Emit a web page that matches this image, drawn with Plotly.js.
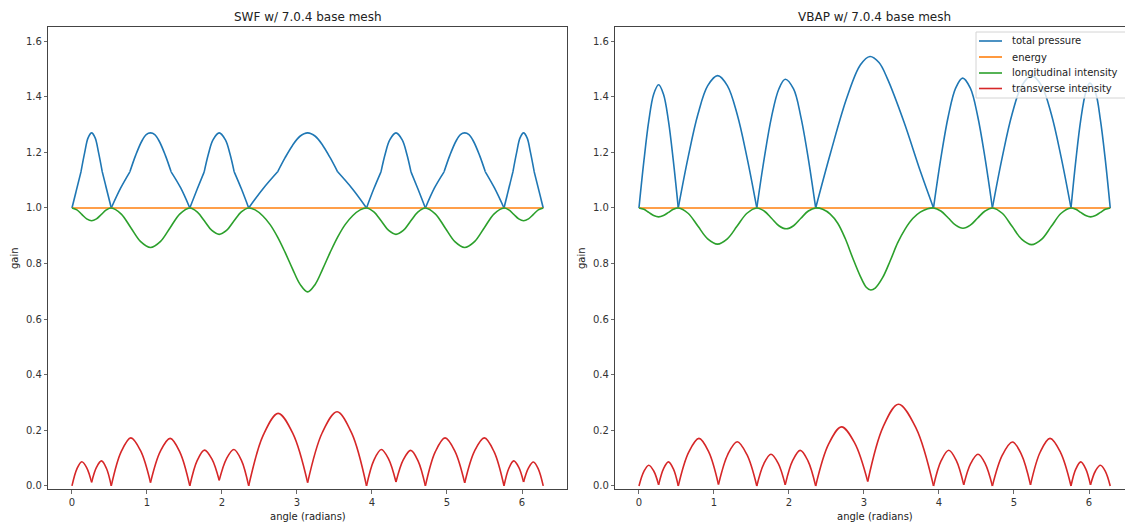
<!DOCTYPE html>
<html>
<head>
<meta charset="utf-8">
<script src="https://cdn.plot.ly/plotly-3.0.1.min.js"></script>
<style>
  html, body { margin: 0; padding: 0; overflow: hidden; background: #fff; }
</style>
</head>
<body>
<div id="chart" style="width:1140px;height:524px"></div>
<script>
// Gains versus source angle around a 7.0.4 base mesh (angles in radians).
// null entries separate pieces so that each lobe / arc is smoothed on its own
// and the cusps at the loudspeaker positions stay sharp.

const xTicks = [0, 1, 2, 3, 4, 5, 6];
const yTicks = [0, 0.2, 0.4, 0.6, 0.8, 1.0, 1.2, 1.4, 1.6];

const energyX = [0, 6.283];
const energyY = [1.0, 1.0];

// ---------- SWF ----------
const swfPressureX = [
  0, 0.12, null,
  0.12, 0.17, 0.215, 0.262, 0.309, 0.354, 0.404, null,
  0.404, 0.524, null,
  0.524, 0.65, 0.772, null,
  0.772, 0.85, 0.93, 0.99, 1.047, 1.104, 1.164, 1.244, 1.322, null,
  1.322, 1.45, 1.571, null,
  1.571, 1.67, 1.763, null,
  1.763, 1.82, 1.88, 1.963, 2.046, 2.106, 2.163, null,
  2.163, 2.26, 2.356, null,
  2.356, 2.55, 2.742, null,
  2.742, 2.84, 2.94, 3.04, 3.142, 3.244, 3.344, 3.444, 3.542, null,
  3.542, 3.735, 3.927, null,
  3.927, 4.023, 4.120, null,
  4.120, 4.177, 4.237, 4.320, 4.403, 4.463, 4.520, null,
  4.520, 4.613, 4.712, null,
  4.712, 4.833, 4.961, null,
  4.961, 5.039, 5.119, 5.179, 5.236, 5.293, 5.353, 5.433, 5.511, null,
  5.511, 5.633, 5.760, null,
  5.760, 5.879, null,
  5.879, 5.929, 5.974, 6.021, 6.068, 6.113, 6.163, null,
  6.163, 6.283
];
const swfPressureY = [
  1.0, 1.13, null,
  1.13, 1.20, 1.252, 1.27, 1.252, 1.20, 1.13, null,
  1.13, 1.0, null,
  1.0, 1.072, 1.13, null,
  1.13, 1.19, 1.24, 1.264, 1.27, 1.264, 1.24, 1.19, 1.13, null,
  1.13, 1.072, 1.0, null,
  1.0, 1.068, 1.13, null,
  1.13, 1.195, 1.245, 1.27, 1.245, 1.195, 1.13, null,
  1.13, 1.068, 1.0, null,
  1.0, 1.07, 1.13, null,
  1.13, 1.18, 1.225, 1.258, 1.27, 1.258, 1.225, 1.18, 1.13, null,
  1.13, 1.07, 1.0, null,
  1.0, 1.068, 1.13, null,
  1.13, 1.195, 1.245, 1.27, 1.245, 1.195, 1.13, null,
  1.13, 1.068, 1.0, null,
  1.0, 1.072, 1.13, null,
  1.13, 1.19, 1.24, 1.264, 1.27, 1.264, 1.24, 1.19, 1.13, null,
  1.13, 1.072, 1.0, null,
  1.0, 1.13, null,
  1.13, 1.20, 1.252, 1.27, 1.252, 1.20, 1.13, null,
  1.13, 1.0
];

const swfLongX = [
  0, 0.066, 0.131, 0.196, 0.262, 0.327, 0.393, 0.458, 0.524,
  0.654, 0.785, 0.916, 1.047, 1.178, 1.309, 1.440, 1.571,
  1.669, 1.767, 1.865, 1.963, 2.061, 2.159, 2.258, 2.356,
  2.442, 2.542, 2.642, 2.742, 2.842, 2.942, 3.042, 3.142,
  3.242, 3.342, 3.442, 3.542, 3.642, 3.742, 3.842, 3.927,
  4.025, 4.124, 4.222, 4.320, 4.418, 4.516, 4.614, 4.712,
  4.843, 4.974, 5.105, 5.236, 5.367, 5.498, 5.629, 5.760,
  5.825, 5.890, 5.956, 6.021, 6.087, 6.152, 6.217, 6.283
];
const swfLongY = [
  1.0, 0.993, 0.977, 0.961, 0.954, 0.961, 0.977, 0.993, 1.0,
  0.979, 0.929, 0.879, 0.858, 0.879, 0.929, 0.979, 1.0,
  0.986, 0.953, 0.919, 0.905, 0.919, 0.953, 0.986, 1.0,
  0.993, 0.972, 0.94, 0.895, 0.84, 0.78, 0.725, 0.698,
  0.725, 0.78, 0.84, 0.895, 0.94, 0.972, 0.993, 1.0,
  0.986, 0.953, 0.919, 0.905, 0.919, 0.953, 0.986, 1.0,
  0.979, 0.929, 0.879, 0.858, 0.879, 0.929, 0.979, 1.0,
  0.993, 0.977, 0.961, 0.954, 0.961, 0.977, 0.993, 1.0
];

const swfTransX = [
  0, 0.066, 0.131, 0.197, 0.262, null,
  0.262, 0.328, 0.393, 0.459, 0.524, null,
  0.524, 0.655, 0.785, 0.916, 1.047, null,
  1.047, 1.178, 1.309, 1.44, 1.571, null,
  1.571, 1.669, 1.767, 1.865, 1.963, null,
  1.963, 2.061, 2.159, 2.258, 2.356, null,
  2.356, 2.553, 2.749, 2.946, 3.142, null,
  3.142, 3.338, 3.534, 3.731, 3.927, null,
  3.927, 4.026, 4.124, 4.222, 4.320, null,
  4.320, 4.418, 4.516, 4.614, 4.712, null,
  4.712, 4.843, 4.974, 5.105, 5.236, null,
  5.236, 5.367, 5.498, 5.629, 5.760, null,
  5.760, 5.825, 5.890, 5.956, 6.021, null,
  6.021, 6.087, 6.152, 6.218, 6.283
];
const swfTransY = [
  0, 0.0615, 0.087, 0.0653, 0.013, null,
  0.013, 0.0674, 0.090, 0.0636, 0, null,
  0, 0.1223, 0.173, 0.1258, 0.012, null,
  0.012, 0.1244, 0.171, 0.1209, 0, null,
  0, 0.0912, 0.129, 0.0971, 0.02, null,
  0.02, 0.0985, 0.131, 0.0926, 0, null,
  0, 0.1845, 0.261, 0.188, 0.012, null,
  0.012, 0.1923, 0.267, 0.1888, 0, null,
  0, 0.0926, 0.131, 0.0967, 0.014, null,
  0.014, 0.0946, 0.128, 0.0905, 0, null,
  0, 0.1223, 0.173, 0.1255, 0.011, null,
  0.011, 0.1255, 0.173, 0.1223, 0, null,
  0, 0.0636, 0.090, 0.0677, 0.014, null,
  0.014, 0.0649, 0.086, 0.0608, 0
];

// ---------- VBAP ----------
const vbapPressureX = [
  0, 0.066, 0.131, 0.196, 0.262, 0.327, 0.393, 0.458, 0.524, null,
  0.524, 0.655, 0.786, 0.917, 1.05, 1.178, 1.309, 1.44, 1.571, null,
  1.571, 1.669, 1.767, 1.865, 1.95, 2.061, 2.159, 2.258, 2.356, null,
  2.356, 2.553, 2.776, 2.953, 3.08, 3.20, 3.309, 3.531, 3.753, 3.927, null,
  3.927, 4.025, 4.124, 4.222, 4.315, 4.418, 4.516, 4.614, 4.712, null,
  4.712, 4.843, 4.974, 5.105, 5.236, 5.367, 5.498, 5.629, 5.760, null,
  5.760, 5.825, 5.890, 5.956, 6.01, 6.087, 6.152, 6.218, 6.283
];
const vbapPressureY = [
  1.0, 1.17, 1.313, 1.409, 1.443, 1.409, 1.313, 1.17, 1.0, null,
  1.0, 1.182, 1.337, 1.44, 1.476, 1.44, 1.337, 1.182, 1.0, null,
  1.0, 1.177, 1.327, 1.428, 1.463, 1.428, 1.327, 1.177, 1.0, null,
  1.0, 1.197, 1.40, 1.515, 1.545, 1.523, 1.467, 1.311, 1.131, 1.0, null,
  1.0, 1.179, 1.33, 1.431, 1.467, 1.431, 1.33, 1.179, 1.0, null,
  1.0, 1.182, 1.337, 1.44, 1.476, 1.44, 1.337, 1.182, 1.0, null,
  1.0, 1.172, 1.317, 1.415, 1.449, 1.415, 1.317, 1.172, 1.0
];

const vbapLongX = [
  0, 0.066, 0.131, 0.196, 0.262, 0.327, 0.393, 0.458, 0.524,
  0.654, 0.785, 0.916, 1.047, 1.178, 1.309, 1.440, 1.571,
  1.669, 1.767, 1.865, 1.963, 2.061, 2.159, 2.258, 2.356,
  2.45, 2.55, 2.65, 2.75, 2.85, 2.95, 3.03, 3.09, 3.15,
  3.25, 3.35, 3.45, 3.55, 3.65, 3.75, 3.85, 3.927,
  4.025, 4.124, 4.222, 4.320, 4.418, 4.516, 4.614, 4.712,
  4.843, 4.974, 5.105, 5.236, 5.367, 5.498, 5.629, 5.760,
  5.825, 5.890, 5.956, 6.021, 6.087, 6.152, 6.217, 6.283
];
const vbapLongY = [
  1.0, 0.995, 0.984, 0.973, 0.968, 0.973, 0.984, 0.995, 1.0,
  0.981, 0.935, 0.889, 0.870, 0.889, 0.935, 0.981, 1.0,
  0.989, 0.963, 0.936, 0.925, 0.936, 0.963, 0.989, 1.0,
  0.995, 0.978, 0.945, 0.89, 0.82, 0.755, 0.715, 0.705, 0.712,
  0.75, 0.81, 0.875, 0.925, 0.962, 0.985, 0.997, 1.0,
  0.989, 0.964, 0.938, 0.927, 0.938, 0.964, 0.989, 1.0,
  0.981, 0.934, 0.887, 0.868, 0.887, 0.934, 0.981, 1.0,
  0.995, 0.984, 0.973, 0.968, 0.973, 0.984, 0.995, 1.0
];

const vbapTransX = [
  0, 0.066, 0.131, 0.197, 0.262, null,
  0.262, 0.328, 0.393, 0.459, 0.524, null,
  0.524, 0.662, 0.80, 0.93, 1.06, null,
  1.06, 1.185, 1.31, 1.44, 1.571, null,
  1.571, 1.666, 1.76, 1.855, 1.95, null,
  1.95, 2.05, 2.15, 2.253, 2.356, null,
  2.356, 2.528, 2.70, 2.875, 3.05, null,
  3.05, 3.255, 3.46, 3.694, 3.927, null,
  3.927, 4.029, 4.13, 4.23, 4.33, null,
  4.33, 4.425, 4.52, 4.616, 4.712, null,
  4.712, 4.846, 4.98, 5.10, 5.22, null,
  5.22, 5.35, 5.48, 5.62, 5.760, null,
  5.760, 5.825, 5.89, 5.955, 6.02, null,
  6.02, 6.086, 6.152, 6.218, 6.283
];
const vbapTransY = [
  0, 0.0527, 0.0745, 0.0538, 0.004, null,
  0.004, 0.0623, 0.0865, 0.0612, 0, null,
  0, 0.1209, 0.171, 0.1224, 0.005, null,
  0.005, 0.1139, 0.159, 0.1124, 0, null,
  0, 0.0806, 0.114, 0.0818, 0.004, null,
  0.004, 0.0917, 0.128, 0.0905, 0, null,
  0, 0.1502, 0.2125, 0.155, 0.016, null,
  0.016, 0.2125, 0.294, 0.2079, 0, null,
  0, 0.0908, 0.1285, 0.092, 0.004, null,
  0.004, 0.0818, 0.114, 0.0806, 0, null,
  0, 0.1117, 0.158, 0.1129, 0.004, null,
  0.004, 0.1221, 0.171, 0.1209, 0, null,
  0, 0.0612, 0.0865, 0.0623, 0.004, null,
  0.004, 0.0538, 0.0745, 0.0527, 0
];

const seriesNames = ['total pressure', 'energy', 'longitudinal intensity', 'transverse intensity'];
const seriesColors = ['#1f77b4', '#ff7f0e', '#2ca02c', '#d62728'];

function panelTraces(xs, ys, xa, ya) {
  return xs.map((x, i) => ({
    x: x, y: ys[i], xaxis: xa, yaxis: ya,
    type: 'scatter', mode: 'lines',
    name: seriesNames[i],
    showlegend: false,
    connectgaps: false,
    line: { color: seriesColors[i], width: 1.6, shape: i === 1 ? 'linear' : 'spline', smoothing: 1 },
    hoverinfo: 'skip'
  }));
}

const data = [
  ...panelTraces([swfPressureX, energyX, swfLongX, swfTransX],
                 [swfPressureY, energyY, swfLongY, swfTransY], 'x', 'y'),
  ...panelTraces([vbapPressureX, energyX, vbapLongX, vbapTransX],
                 [vbapPressureY, energyY, vbapLongY, vbapTransY], 'x2', 'y2')
];

const font = 'DejaVu Sans, Liberation Sans, sans-serif';
const axisStyle = {
  showgrid: false, zeroline: false,
  showline: true, mirror: true, linecolor: '#444', linewidth: 1,
  ticks: 'outside', ticklen: 3.5, tickwidth: 0.8, tickcolor: '#444',
  tickfont: { family: font, size: 10, color: '#333' },
  fixedrange: true
};
const xStyle = Object.assign({}, axisStyle, { range: [-0.3142, 6.5973], tickvals: xTicks, ticktext: xTicks.map(String) });
const yStyle = Object.assign({}, axisStyle, { range: [-0.011, 1.651], tickvals: yTicks, ticktext: yTicks.map(v => v.toFixed(1)) });

const W = 1140, H = 524;
const leftDom = [48.4 / W, 566.8 / W];
const rightDom = [615.4 / W, 1133.8 / W];
const yDom = [(H - 489) / H, (H - 27) / H];

function note(text, xpx, ypx, size, angle, anchor) {
  return {
    text: text, xref: 'paper', yref: 'paper',
    x: xpx / W, y: (H - ypx) / H, xanchor: anchor || 'center', yanchor: 'middle',
    showarrow: false, textangle: angle || 0,
    font: { family: font, size: size, color: '#222' }
  };
}

// Legend box in the upper right of the VBAP panel (pixel placement)
const legendBox = { left: 976, top: 32, bottom: 98, lineX0: 979, lineX1: 1002, textX: 1010, rows: [41, 57, 73, 88.5] };
const shapes = [{
  type: 'rect', xref: 'paper', yref: 'paper', layer: 'above',
  x0: legendBox.left / W, x1: 1139 / W,
  y0: (H - legendBox.bottom) / H, y1: (H - legendBox.top) / H,
  fillcolor: 'rgba(255,255,255,0.8)', line: { color: '#d4d4d4', width: 1 }
}];
const annotations = [
  note('SWF w/ 7.0.4 base mesh', (leftDom[0] + leftDom[1]) / 2 * W, 17, 12),
  note('VBAP w/ 7.0.4 base mesh', (rightDom[0] + rightDom[1]) / 2 * W, 17, 12),
  note('angle (radians)', (leftDom[0] + leftDom[1]) / 2 * W, 516, 10),
  note('angle (radians)', (rightDom[0] + rightDom[1]) / 2 * W, 516, 10),
  note('gain', 14, 258, 10, -90),
  note('gain', 581, 258, 10, -90)
];
seriesNames.forEach((name, i) => {
  const yy = (H - legendBox.rows[i]) / H;
  shapes.push({
    type: 'line', xref: 'paper', yref: 'paper', layer: 'above',
    x0: legendBox.lineX0 / W, x1: legendBox.lineX1 / W, y0: yy, y1: yy,
    line: { color: seriesColors[i], width: 1.6 }
  });
  annotations.push(note(name, legendBox.textX, legendBox.rows[i], 10, 0, 'left'));
});

const layout = {
  width: W, height: H,
  margin: { l: 0, r: 0, t: 0, b: 0, pad: 0 },
  paper_bgcolor: '#fff', plot_bgcolor: '#fff',
  xaxis: Object.assign({}, xStyle, { domain: leftDom, anchor: 'y' }),
  yaxis: Object.assign({}, yStyle, { domain: yDom, anchor: 'x' }),
  xaxis2: Object.assign({}, xStyle, { domain: rightDom, anchor: 'y2' }),
  yaxis2: Object.assign({}, yStyle, { domain: yDom, anchor: 'x2' }),
  showlegend: false,
  shapes: shapes,
  annotations: annotations
};

Plotly.newPlot('chart', data, layout, { staticPlot: true, displayModeBar: false });
</script>
</body>
</html>
